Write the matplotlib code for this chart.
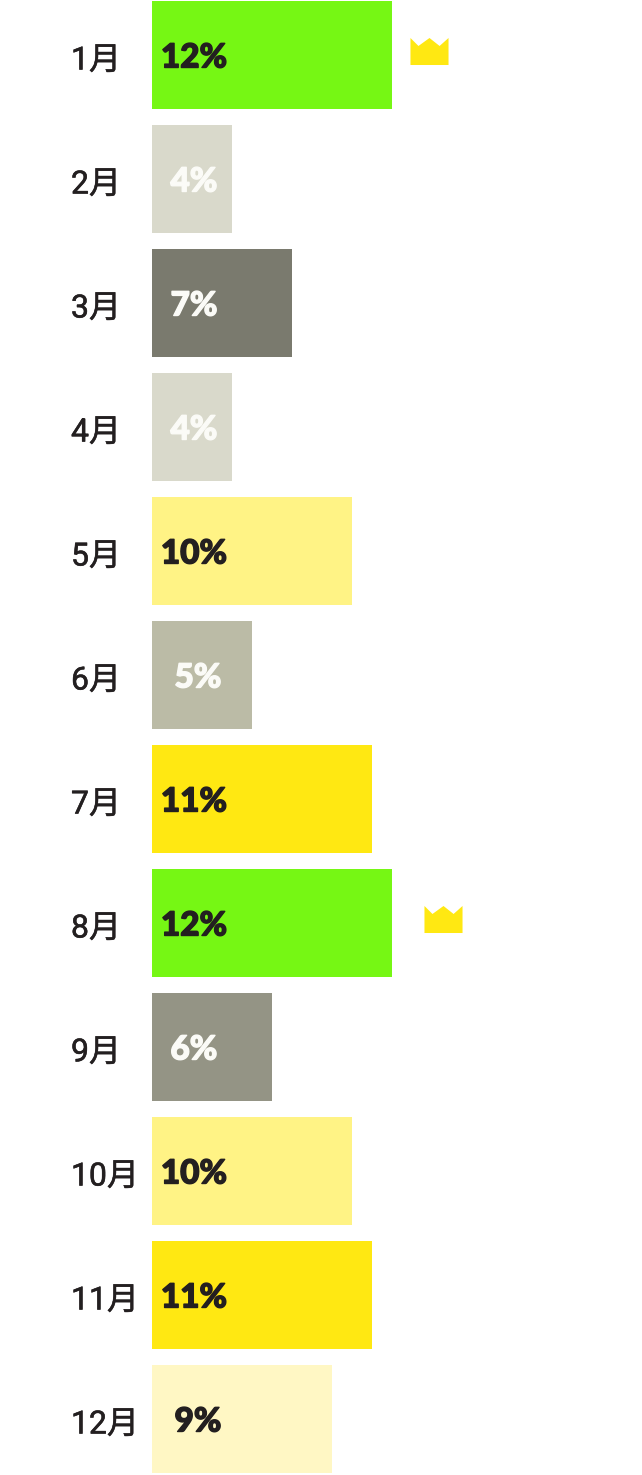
import matplotlib
matplotlib.use("Agg")
import matplotlib.pyplot as plt
import matplotlib.patheffects as pe
from matplotlib.path import Path

months = ["1月", "2月", "3月", "4月", "5月", "6月", "7月", "8月", "9月", "10月", "11月", "12月"]
values = [12, 4, 7, 4, 10, 5, 11, 12, 6, 10, 11, 9]
crown_months = [0, 7]

# colour follows the value
colors = {4: "#D9D9CB", 5: "#BBBBA6", 6: "#949485", 7: "#7A7A6E",
          9: "#FFF7C4", 10: "#FFF385", 11: "#FFE812", 12: "#76F714"}
white_text = [4, 5, 6, 7]
dark = "#231F20"

W, H = 642, 1475
fig = plt.figure(figsize=(W / 100, H / 100), dpi=100)
ax = fig.add_axes([152 / W, 0, 1 - 152 / W, 1])
ax.set_xlim(0, (W - 152) / 20)
ax.set_ylim((H - 55) / 124, -55 / 124)
ax.axis("off")

ypos = list(range(len(months)))
ax.barh(ypos, values, height=108 / 124, color=[colors[v] for v in values])

for i, (m, v) in enumerate(zip(months, values)):
    ax.annotate(m, (0, i), xytext=(-81, -6), textcoords="offset pixels",
                ha="left", va="center", fontsize=23, color=dark,
                family=["Roboto", "Noto Sans CJK JP"],
                path_effects=[pe.withStroke(linewidth=0.4, foreground=dark)])
    nudge = 4 if v in (5, 9) else 0
    col = "#FBFBF7" if v in white_text else dark
    ax.annotate(f"{v}%", (0, i), xytext=(42 + nudge, -3), textcoords="offset pixels",
                ha="center", va="center", fontsize=24, fontweight="black",
                family="Lato", color=col,
                path_effects=[pe.withStroke(linewidth=1, foreground=col)])

# marker y points up, so the peaks get positive y
crown = Path([(-1, -0.71), (-1, 0.71), (-0.58, 0.29), (0, 0.71), (0.53, 0.29),
              (1, 0.71), (1, -0.71), (-1, -0.71)], closed=True)
crown_x = [13.85, 14.55]
for m, x in zip(crown_months, crown_x):
    ax.plot([x], [m - 0.03], marker=crown, ms=27.4, mew=0, color="#FFE812", ls="none")

fig.savefig("out.png", dpi=100, facecolor="white")
